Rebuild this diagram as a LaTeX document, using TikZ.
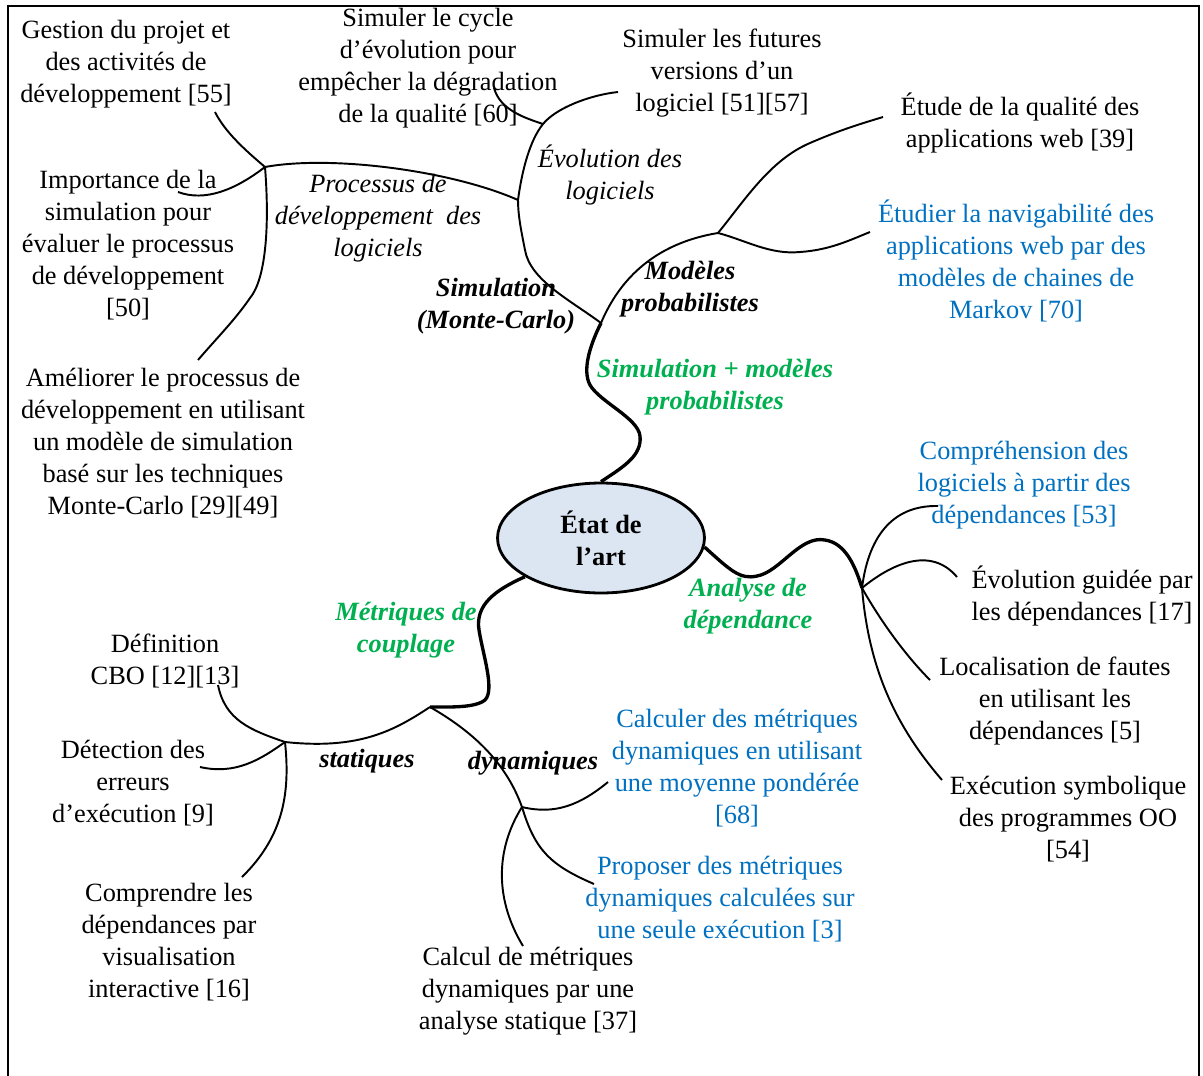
\documentclass[tikz,border=0pt]{standalone}
\usepackage{fontspec}
\setmainfont{Liberation Serif}
\usetikzlibrary{shapes.geometric}
\definecolor{leafblue}{HTML}{0070C0}
\definecolor{branchgreen}{HTML}{00B050}
\definecolor{centrefill}{HTML}{DCE6F2}
\tikzset{
  leaf/.style={align=center,inner sep=0pt,font=\fontsize{15}{18.2}\selectfont},
  bleaf/.style={leaf,text=leafblue},
  topic/.style={leaf,font=\fontsize{15}{18.2}\selectfont\itshape},
  btopic/.style={leaf,font=\fontsize{15}{18.2}\selectfont\bfseries\itshape},
  gtopic/.style={btopic,text=branchgreen},
  trunk/.style={line width=1.9pt},
  twig/.style={line width=1.1pt}
}
\begin{document}
\begin{tikzpicture}[x=0.02cm,y=-0.02cm]
  \useasboundingbox (0,0) rectangle (1203,1075);
  \draw[line width=1.2pt] (8,1085) -- (8,6) -- (1199,6) -- (1199,1085);

  \node (etat) at (601,538) [ellipse,draw,line width=1.6pt,fill=centrefill,minimum width=4.14cm,minimum height=2.2cm,inner sep=0pt,align=center,font=\fontsize{15}{18.2}\selectfont\bfseries] {État de\\l'art};

  \node (gestion) at (126,64) [leaf] {Gestion du projet et\\des activités de\\développement [55]};
  \node (cycle) at (428,68) [leaf] {Simuler le cycle\\d'évolution pour\\empêcher la dégradation\\de la qualité [60]};
  \node (futures) at (722,73) [leaf] {Simuler les futures\\versions d'un\\logiciel [51][57]};
  \node (etude) at (1020,123) [leaf] {Étude de la qualité des\\applications web [39]};
  \node (navig) at (1016,261) [bleaf] {Étudier la navigabilité des\\applications web par des\\modèles de chaines de\\Markov [70]};
  \node (importance) at (128,245) [leaf] {Importance de la\\simulation pour\\évaluer le processus\\de développement\\{}[50]};
  \node (ameliorer) at (163,443) [leaf] {Améliorer le processus de\\développement en utilisant\\un modèle de simulation\\basé sur les techniques\\Monte-Carlo [29][49]};
  \node (procdev) at (378,218) [topic] {Processus de\\développement\ \ des\\logiciels};
  \node (evol) at (610,175) [topic] {Évolution des\\logiciels};
  \node (simmc) at (496,306) [btopic] {Simulation\\(Monte-Carlo)};
  \node (modeles) at (690,289) [btopic] {Modèles\\probabilistes};
  \node (simmod) at (715,387) [gtopic] {Simulation + modèles\\probabilistes};
  \node (compr) at (1024,485) [bleaf] {Compréhension des\\logiciels à partir des\\dépendances [53]};
  \node (guidee) at (1082,596) [leaf] {Évolution guidée par\\les dépendances [17]};
  \node (localis) at (1055,701) [leaf] {Localisation de fautes\\en utilisant les\\dépendances [5]};
  \node (symbol) at (1068,819) [leaf] {Exécution symbolique\\des programmes OO\\{}[54]};
  \node (analyse) at (748,606) [gtopic] {Analyse de\\dépendance};
  \node (metriques) at (406,630) [gtopic] {Métriques de\\couplage};
  \node (cbo) at (165,661) [leaf] {Définition\\CBO [12][13]};
  \node (statiques) at (367,761) [btopic] {statiques};
  \node (dynamiques) at (533,763) [btopic] {dynamiques};
  \node (detect) at (133,783) [leaf] {Détection des\\erreurs\\d'exécution [9]};
  \node (comprendre) at (169,942) [leaf] {Comprendre les\\dépendances par\\visualisation\\interactive [16]};
  \node (calcul) at (528,991) [leaf] {Calcul de métriques\\dynamiques par une\\analyse statique [37]};
  \node (calculer) at (737,768) [bleaf] {Calculer des métriques\\dynamiques en utilisant\\une moyenne pondérée\\{}[68]};
  \node (proposer) at (720,899) [bleaf] {Proposer des métriques\\dynamiques calculées sur\\une seule exécution [3]};

  \coordinate (jsim) at (601,323);
  \coordinate (jevo) at (518,200);
  \coordinate (jcyc) at (543,124);
  \coordinate (jproc) at (265,167);
  \coordinate (jmod) at (718,233);
  \coordinate (jdep) at (862,588);
  \coordinate (jcoup) at (430,707);
  \coordinate (jstat) at (285,742);
  \coordinate (jdyn) at (522,807);
  \coordinate (egestion) at (215,112);
  \coordinate (ecycle) at (494,88);
  \coordinate (efutures) at (618,92);
  \coordinate (eetude) at (883,117);
  \coordinate (enavig) at (870,232);
  \coordinate (eimportance) at (178,192);
  \coordinate (eameliorer) at (198,360);
  \coordinate (ecompr) at (938,506);
  \coordinate (eguidee) at (957,577);
  \coordinate (elocalis) at (930,680);
  \coordinate (esymbol) at (942,780);
  \coordinate (ecbo) at (218,685);
  \coordinate (edetect) at (200,767);
  \coordinate (ecomprendre) at (242,877);
  \coordinate (ecalcul) at (523,946);
  \coordinate (ecalculer) at (608,782);
  \coordinate (eproposer) at (594,884);

  \draw[trunk] (etat.north) .. controls (625,466) and (642,455) .. (640,436) .. controls (638,418) and (600,402) .. (590,385) .. controls (582,370) and (590,345) .. (jsim);
  \draw[trunk] (etat.-5) .. controls (730,570) and (740,580) .. (757,576) .. controls (780,572) and (800,535) .. (825,540) .. controls (845,543) and (855,565) .. (jdep);
  \draw[trunk] (etat.207) .. controls (495,590) and (475,605) .. (479,630) .. controls (483,655) and (495,690) .. (485,700) .. controls (475,708) and (450,707) .. (jcoup);

  \draw[twig] (jsim) .. controls (570,300) and (530,280) .. (525,250) .. controls (521,230) and (518,215) .. (jevo);
  \draw[twig] (jevo) .. controls (522,170) and (530,140) .. (jcyc) .. controls (556,108) and (590,95) .. (efutures);
  \draw[twig] (jcyc) .. controls (525,118) and (500,110) .. (ecycle);
  \draw[twig] (jevo) .. controls (450,170) and (330,155) .. (jproc);
  \draw[twig] (jproc) .. controls (245,150) and (225,132) .. (egestion);
  \draw[twig] (jproc) .. controls (235,190) and (205,202) .. (eimportance);
  \draw[twig] (jproc) .. controls (270,230) and (265,280) .. (250,298) .. controls (235,320) and (215,340) .. (eameliorer);
  \draw[twig] (jsim) .. controls (615,290) and (645,245) .. (jmod);
  \draw[twig] (jmod) .. controls (745,200) and (770,160) .. (810,143) .. controls (840,130) and (860,124) .. (eetude);
  \draw[twig] (jmod) .. controls (745,240) and (770,255) .. (800,252) .. controls (830,250) and (850,240) .. (enavig);

  \draw[twig] (jdep) .. controls (868,540) and (890,505) .. (ecompr);
  \draw[twig] (jdep) .. controls (890,565) and (930,545) .. (eguidee);
  \draw[twig] (jdep) .. controls (880,620) and (905,655) .. (elocalis);
  \draw[twig] (jdep) .. controls (868,660) and (890,720) .. (esymbol);

  \draw[twig] (jcoup) .. controls (395,730) and (360,750) .. (jstat);
  \draw[twig] (jstat) .. controls (250,730) and (225,720) .. (ecbo);
  \draw[twig] (jstat) .. controls (260,760) and (235,775) .. (edetect);
  \draw[twig] (jstat) .. controls (290,790) and (285,835) .. (ecomprendre);
  \draw[twig] (jcoup) .. controls (470,730) and (505,760) .. (jdyn);
  \draw[twig] (jdyn) .. controls (555,815) and (580,805) .. (ecalculer);
  \draw[twig] (jdyn) .. controls (535,850) and (550,865) .. (eproposer);
  \draw[twig] (jdyn) .. controls (495,850) and (495,900) .. (ecalcul);
\end{tikzpicture}
\end{document}
